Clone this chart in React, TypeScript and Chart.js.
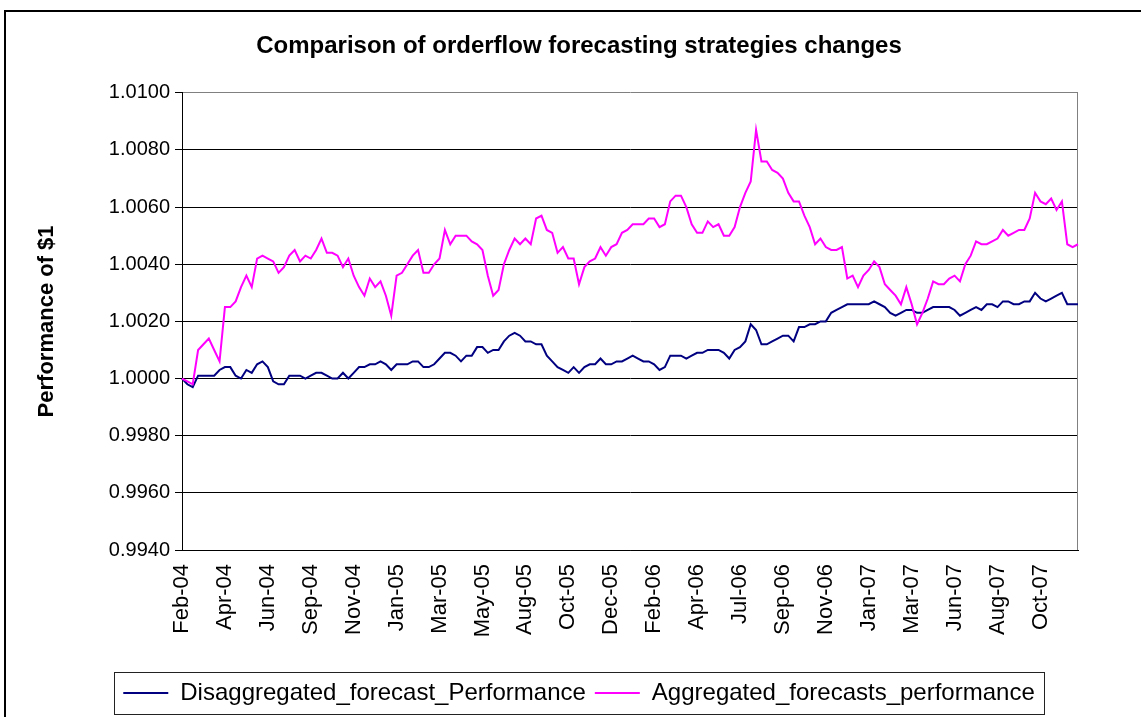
import React, { useEffect, useRef } from "react";
import { Chart, registerables } from "chart.js";

Chart.register(...registerables);

const TICK_LABELS = [
  "Feb-04", "Apr-04", "Jun-04", "Sep-04", "Nov-04", "Jan-05", "Mar-05",
  "May-05", "Aug-05", "Oct-05", "Dec-05", "Feb-06", "Apr-06", "Jul-06",
  "Sep-06", "Nov-06", "Jan-07", "Mar-07", "Jun-07", "Aug-07", "Oct-07",
];
const POINTS_PER_TICK = 8;

const SERIES_NAMES = ["Disaggregated_forecast_Performance", "Aggregated_forecasts_performance"];

const DISAGG = [
  1.0000, 0.9998, 0.9997, 1.0001, 1.0001, 1.0001, 1.0001, 1.0003, 1.0004, 1.0004,
  1.0001, 1.0000, 1.0003, 1.0002, 1.0005, 1.0006, 1.0004, 0.9999, 0.9998, 0.9998,
  1.0001, 1.0001, 1.0001, 1.0000, 1.0001, 1.0002, 1.0002, 1.0001, 1.0000, 1.0000,
  1.0002, 1.0000, 1.0002, 1.0004, 1.0004, 1.0005, 1.0005, 1.0006, 1.0005, 1.0003,
  1.0005, 1.0005, 1.0005, 1.0006, 1.0006, 1.0004, 1.0004, 1.0005, 1.0007, 1.0009,
  1.0009, 1.0008, 1.0006, 1.0008, 1.0008, 1.0011, 1.0011, 1.0009, 1.0010, 1.0010,
  1.0013, 1.0015, 1.0016, 1.0015, 1.0013, 1.0013, 1.0012, 1.0012, 1.0008, 1.0006,
  1.0004, 1.0003, 1.0002, 1.0004, 1.0002, 1.0004, 1.0005, 1.0005, 1.0007, 1.0005,
  1.0005, 1.0006, 1.0006, 1.0007, 1.0008, 1.0007, 1.0006, 1.0006, 1.0005, 1.0003,
  1.0004, 1.0008, 1.0008, 1.0008, 1.0007, 1.0008, 1.0009, 1.0009, 1.0010, 1.0010,
  1.0010, 1.0009, 1.0007, 1.0010, 1.0011, 1.0013, 1.0019, 1.0017, 1.0012, 1.0012,
  1.0013, 1.0014, 1.0015, 1.0015, 1.0013, 1.0018, 1.0018, 1.0019, 1.0019, 1.0020,
  1.0020, 1.0023, 1.0024, 1.0025, 1.0026, 1.0026, 1.0026, 1.0026, 1.0026, 1.0027,
  1.0026, 1.0025, 1.0023, 1.0022, 1.0023, 1.0024, 1.0024, 1.0023, 1.0023, 1.0024,
  1.0025, 1.0025, 1.0025, 1.0025, 1.0024, 1.0022, 1.0023, 1.0024, 1.0025, 1.0024,
  1.0026, 1.0026, 1.0025, 1.0027, 1.0027, 1.0026, 1.0026, 1.0027, 1.0027, 1.0030,
  1.0028, 1.0027, 1.0028, 1.0029, 1.0030, 1.0026, 1.0026, 1.0026,
];

const AGG = [
  1.0000, 0.9999, 0.9998, 1.0010, 1.0012, 1.0014, 1.0010, 1.0006, 1.0025, 1.0025,
  1.0027, 1.0032, 1.0036, 1.0032, 1.0042, 1.0043, 1.0042, 1.0041, 1.0037, 1.0039,
  1.0043, 1.0045, 1.0041, 1.0043, 1.0042, 1.0045, 1.0049, 1.0044, 1.0044, 1.0043,
  1.0039, 1.0042, 1.0036, 1.0032, 1.0029, 1.0035, 1.0032, 1.0034, 1.0029, 1.0022,
  1.0036, 1.0037, 1.0040, 1.0043, 1.0045, 1.0037, 1.0037, 1.0040, 1.0042, 1.0052,
  1.0047, 1.0050, 1.0050, 1.0050, 1.0048, 1.0047, 1.0045, 1.0036, 1.0029, 1.0031,
  1.0040, 1.0045, 1.0049, 1.0047, 1.0049, 1.0047, 1.0056, 1.0057, 1.0052, 1.0051,
  1.0044, 1.0046, 1.0042, 1.0042, 1.0033, 1.0039, 1.0041, 1.0042, 1.0046, 1.0043,
  1.0046, 1.0047, 1.0051, 1.0052, 1.0054, 1.0054, 1.0054, 1.0056, 1.0056, 1.0053,
  1.0054, 1.0062, 1.0064, 1.0064, 1.0060, 1.0054, 1.0051, 1.0051, 1.0055, 1.0053,
  1.0054, 1.0050, 1.0050, 1.0053, 1.0060, 1.0065, 1.0069, 1.0087, 1.0076, 1.0076,
  1.0073, 1.0072, 1.0070, 1.0065, 1.0062, 1.0062, 1.0057, 1.0053, 1.0047, 1.0049,
  1.0046, 1.0045, 1.0045, 1.0046, 1.0035, 1.0036, 1.0032, 1.0036, 1.0038, 1.0041,
  1.0039, 1.0033, 1.0031, 1.0029, 1.0026, 1.0032, 1.0026, 1.0019, 1.0023, 1.0028,
  1.0034, 1.0033, 1.0033, 1.0035, 1.0036, 1.0034, 1.0040, 1.0043, 1.0048, 1.0047,
  1.0047, 1.0048, 1.0049, 1.0052, 1.0050, 1.0051, 1.0052, 1.0052, 1.0056, 1.0065,
  1.0062, 1.0061, 1.0063, 1.0059, 1.0062, 1.0047, 1.0046, 1.0047,
];

const Y_MIN = 0.994;
const Y_MAX = 1.01;
const Y_STEP = 0.002;

const FONT = "'Liberation Sans', Arial, Helvetica, sans-serif";

export default function App() {
  const ref = useRef<HTMLCanvasElement>(null);

  useEffect(() => {
    if (!ref.current) return;
    Chart.defaults.font.family = FONT;
    const labels = DISAGG.map((_, i) =>
      i % POINTS_PER_TICK === 0 ? TICK_LABELS[i / POINTS_PER_TICK] ?? "" : ""
    );

    const framePlugin = {
      id: "frame",
      beforeDatasetsDraw(chart: any) {
        const { ctx, chartArea } = chart;
        ctx.save();
        ctx.strokeStyle = "#808080";
        ctx.lineWidth = 1;
        ctx.beginPath();
        const x = Math.round(chartArea.right) - 0.5;
        ctx.moveTo(x, chartArea.top);
        ctx.lineTo(x, chartArea.bottom);
        ctx.stroke();
        ctx.restore();
      },
      afterDraw(chart: any) {
        const lg = chart.legend;
        if (!lg || !lg.legendHitBoxes || !lg.legendHitBoxes.length) return;
        const hb = lg.legendHitBoxes;
        let l = Infinity;
        let r = -Infinity;
        hb.forEach((h: any) => {
          l = Math.min(l, h.left);
          r = Math.max(r, h.left + h.width);
        });
        const { ctx } = chart;
        ctx.save();
        ctx.strokeStyle = "#222";
        ctx.lineWidth = 1;
        const left = Math.round(l - 9) + 0.5;
        const top = Math.round(lg.top) + 0.5;
        ctx.strokeRect(left, top, Math.round(r + 10 - l + 9), 42);
        ctx.restore();
      },
    };

    const chart = new Chart(ref.current, {
      type: "line",
      data: {
        labels,
        datasets: [
          {
            label: SERIES_NAMES[0],
            data: DISAGG,
            borderColor: "#000080",
            backgroundColor: "#000080",
            borderWidth: 2,
            pointRadius: 0,
            fill: false,
            tension: 0,
            order: 1,
          },
          {
            label: SERIES_NAMES[1],
            data: AGG,
            borderColor: "#FF00FF",
            backgroundColor: "#FF00FF",
            borderWidth: 2,
            pointRadius: 0,
            fill: false,
            tension: 0,
            order: 0,
          },
        ],
      },
      options: {
        responsive: false,
        animation: false,
        events: [],
        layout: { padding: { left: 17, right: 0, top: 0, bottom: 2 } },
        plugins: {
          tooltip: { enabled: false },
          title: {
            display: true,
            text: "Comparison of orderflow forecasting strategies changes",
            color: "#000",
            font: { size: 24, weight: "bold", family: FONT },
            padding: { top: 32, bottom: 32 },
          },
          legend: {
            position: "bottom",
            labels: {
              usePointStyle: true,
              pointStyle: "line",
              pointStyleWidth: 45,
              color: "#000",
              font: { size: 24, family: FONT },
              padding: 9,
              sort: (a: any, b: any) => a.datasetIndex - b.datasetIndex,
            },
          },
        },
        scales: {
          x: {
            type: "category",
            grid: { display: false, drawTicks: false },
            border: { display: true, color: "#000", width: 1 },
            ticks: {
              autoSkip: false,
              maxRotation: 90,
              minRotation: 90,
              padding: 14,
              color: "#000",
              font: { size: 22, family: FONT },
            },
            afterFit: (s: any) => {
              s.height = 122;
            },
          },
          y: {
            type: "linear",
            min: Y_MIN,
            max: Y_MAX,
            ticks: {
              stepSize: Y_STEP,
              color: "#000",
              padding: 5,
              font: { size: 20, family: FONT },
              callback: (v: any) => Number(v).toFixed(4),
            },
            grid: {
              color: (c: any) =>
                c.tick && Math.abs(c.tick.value - Y_MAX) < 1e-6 ? "#808080" : "#000",
              tickColor: "#000",
              tickLength: 7,
              drawTicks: true,
              lineWidth: 1,
            },
            border: { display: true, color: "#000", width: 1 },
            title: {
              display: true,
              text: "Performance of $1",
              color: "#000",
              font: { size: 22, weight: "bold", family: FONT },
              padding: { top: 17, bottom: 0 },
            },
            afterFit: (s: any) => {
              s.width = 165;
            },
          },
          yRight: {
            type: "linear",
            position: "right",
            display: true,
            grid: { display: false, drawTicks: false },
            border: { display: false },
            ticks: { display: false },
            afterFit: (s: any) => {
              s.width = 63;
            },
          },
        },
      } as any,
      plugins: [framePlugin],
    });

    return () => chart.destroy();
  }, []);

  return (
    <div
      style={{
        position: "fixed",
        left: 0,
        top: 0,
        width: 1141,
        height: 717,
        background: "#fff",
        overflow: "hidden",
      }}
    >
      <canvas
        ref={ref}
        width={1141}
        height={717}
        style={{ width: 1141, height: 717, display: "block" }}
      />
      <div
        style={{
          position: "absolute",
          left: 4,
          top: 10,
          width: 1300,
          height: 900,
          borderLeft: "2px solid #000",
          borderTop: "2px solid #000",
          pointerEvents: "none",
        }}
      />
    </div>
  );
}
